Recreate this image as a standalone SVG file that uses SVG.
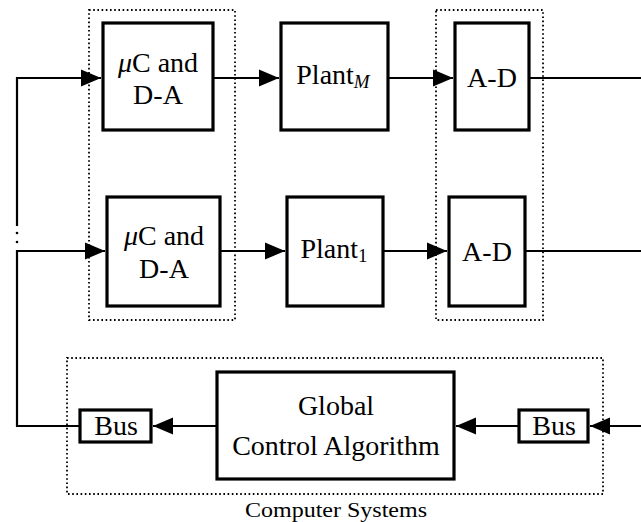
<svg xmlns="http://www.w3.org/2000/svg" width="641" height="522" viewBox="0 0 641 522">
  <style>
    .box { fill: #fff; stroke: #000; stroke-width: 3.2; }
    .group { fill: none; stroke: #000; stroke-width: 1.8; stroke-dasharray: 1.6 2.6; }
    .wire { fill: none; stroke: #000; stroke-width: 2.2; }
    text { font-family: 'Liberation Serif', 'Times New Roman', serif; fill: #000; text-anchor: middle; }
    .lbl { font-size: 28px; }
    .sub { font-size: 19px; }
    .cap { font-size: 20px; }
  </style>
  <defs>
    <marker id="arrow" markerUnits="userSpaceOnUse" markerWidth="21" markerHeight="18" refX="20" refY="9" orient="auto">
      <path d="M0,0.5 L20,9 L0,17.5 z" fill="#000"/>
    </marker>
  </defs>

  <!-- dotted grouping frames -->
  <g id="frames">
    <rect class="group" x="89" y="10" width="146" height="310"/>
    <rect class="group" x="436" y="10" width="107" height="310"/>
    <rect class="group" x="67" y="358" width="536" height="136"/>
    <text class="cap" x="336" y="517" textLength="182" lengthAdjust="spacingAndGlyphs">Computer Systems</text>
  </g>

  <!-- connectors -->
  <g id="connectors">
    <!-- feedback rail on the left -->
    <polyline class="wire" points="17,226 17,78 101,78" marker-end="url(#arrow)"/>
    <circle cx="17" cy="233" r="1.3" fill="#000"/>
    <circle cx="17" cy="242" r="1.3" fill="#000"/>
    <polyline class="wire" points="80,426 17,426 17,251 105,251" marker-end="url(#arrow)"/>
    <!-- channel M -->
    <line class="wire" x1="213" y1="78" x2="279" y2="78" marker-end="url(#arrow)"/>
    <line class="wire" x1="388" y1="78" x2="453" y2="78" marker-end="url(#arrow)"/>
    <line class="wire" x1="529" y1="78" x2="641" y2="78"/>
    <!-- channel 1 -->
    <line class="wire" x1="220" y1="251" x2="285" y2="251" marker-end="url(#arrow)"/>
    <line class="wire" x1="383" y1="251" x2="447" y2="251" marker-end="url(#arrow)"/>
    <line class="wire" x1="525" y1="251" x2="641" y2="251"/>
    <!-- bus path -->
    <line class="wire" x1="641" y1="426" x2="590" y2="426" marker-end="url(#arrow)"/>
    <line class="wire" x1="519" y1="426" x2="456" y2="426" marker-end="url(#arrow)"/>
    <line class="wire" x1="217" y1="426" x2="153" y2="426" marker-end="url(#arrow)"/>
  </g>

  <g id="uc-da-m">
    <rect class="box" x="103" y="23" width="110" height="107"/>
    <text class="lbl" x="158" y="72"><tspan font-style="italic">μ</tspan>C and</text>
    <text class="lbl" x="158" y="104">D-A</text>
  </g>
  <g id="plant-m">
    <rect class="box" x="281" y="23" width="107" height="107"/>
    <text class="lbl" x="333" y="84">Plant<tspan class="sub" font-style="italic" dy="4">M</tspan></text>
  </g>
  <g id="ad-m">
    <rect class="box" x="455" y="23" width="74" height="107"/>
    <text class="lbl" x="492" y="87">A-D</text>
  </g>

  <g id="uc-da-1">
    <rect class="box" x="107" y="197" width="113" height="109"/>
    <text class="lbl" x="164" y="245"><tspan font-style="italic">μ</tspan>C and</text>
    <text class="lbl" x="164" y="278">D-A</text>
  </g>
  <g id="plant-1">
    <rect class="box" x="287" y="197" width="96" height="109"/>
    <text class="lbl" x="334" y="258">Plant<tspan class="sub" dy="4">1</tspan></text>
  </g>
  <g id="ad-1">
    <rect class="box" x="449" y="197" width="76" height="109"/>
    <text class="lbl" x="487" y="261">A-D</text>
  </g>

  <g id="global-control">
    <rect class="box" x="217" y="372" width="237" height="107"/>
    <text class="lbl" x="336" y="415">Global</text>
    <text class="lbl" x="336" y="455">Control Algorithm</text>
  </g>
  <g id="bus-out">
    <rect class="box" x="80" y="410" width="71" height="32"/>
    <text class="lbl" x="116" y="435">Bus</text>
  </g>
  <g id="bus-in">
    <rect class="box" x="519" y="410" width="69" height="32"/>
    <text class="lbl" x="554" y="435">Bus</text>
  </g>
</svg>
